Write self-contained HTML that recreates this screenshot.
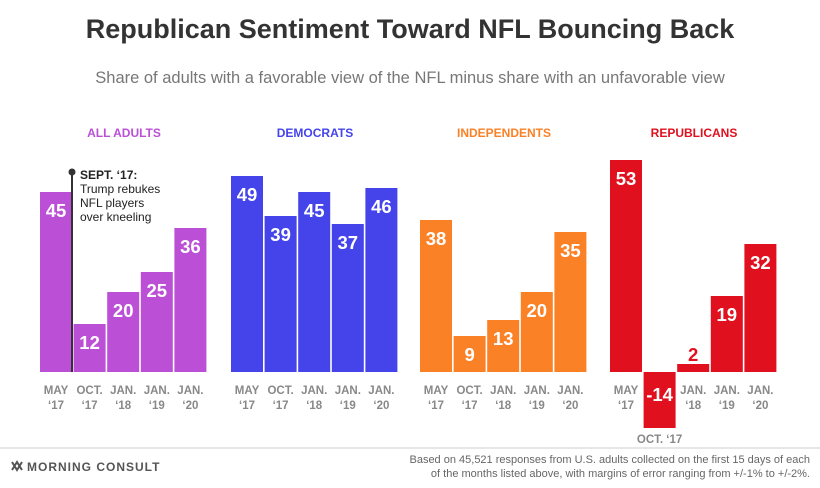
<!DOCTYPE html>
<html><head><meta charset="utf-8"><style>
body{margin:0;background:#fff;font-family:"Liberation Sans",sans-serif}
svg text{font-family:"Liberation Sans",sans-serif}
</style></head><body>
<svg width="820" height="483" viewBox="0 0 820 483">
<text x="410" y="38" text-anchor="middle" font-size="27" font-weight="bold" fill="#333">Republican Sentiment Toward NFL Bouncing Back</text>
<text x="410" y="83" text-anchor="middle" font-size="16.5" fill="#777">Share of adults with a favorable view of the NFL minus share with an unfavorable view</text>
<g id="bars"></g>
<line x1="72" y1="172" x2="72" y2="372" stroke="#333" stroke-width="2"/>
<circle cx="72" cy="172" r="3.5" fill="#333"/>
<text font-size="12" fill="#222"><tspan x="80" y="179" font-weight="bold">SEPT. ‘17:</tspan><tspan x="80" y="193">Trump rebukes</tspan><tspan x="80" y="207">NFL players</tspan><tspan x="80" y="221">over kneeling</tspan></text>
<line x1="0" y1="448" x2="820" y2="448" stroke="#ccc"/>
<g>
<path d="M12 462 l5 8 l5 -8 M12 470 l5 -8 l5 8" stroke="#555" stroke-width="2" fill="none"/>
<text x="27" y="471" font-size="12" font-weight="bold" fill="#555" letter-spacing="1">MORNING CONSULT</text>
</g>
<text font-size="11" fill="#666" text-anchor="end"><tspan x="810" y="463">Based on 45,521 responses from U.S. adults collected on the first 15 days of each</tspan><tspan x="810" y="477">of the months listed above, with margins of error ranging from +/-1% to +/-2%.</tspan></text>
</svg>
<script>
const groups=["ALL ADULTS","DEMOCRATS","INDEPENDENTS","REPUBLICANS"];
const colors=["#bb4fd6","#4444ea","#fb8127","#e0101e"];
const periods=[["MAY","‘17"],["OCT.","‘17"],["JAN.","‘18"],["JAN.","‘19"],["JAN.","‘20"]];
const allAdults=[45,12,20,25,36];
const democrats=[49,39,45,37,46];
const independents=[38,9,13,20,35];
const republicans=[53,-14,2,19,32];
const series=[allAdults,democrats,independents,republicans];
const groupX=[40,231,420,610];
const base=372, k=4, bw=32, pitch=33.6;
const y=v=>base-v*k;
const ns="http://www.w3.org/2000/svg";
const g=document.getElementById('bars');
function mk(t,a,txt){const e=document.createElementNS(ns,t);for(const n in a)e.setAttribute(n,a[n]);if(txt!==undefined)e.textContent=txt;g.appendChild(e);return e;}
series.forEach((s,gi)=>{
 const gx=groupX[gi];
 const title=mk('text',{x:gx+84,y:137,'text-anchor':'middle','font-size':12,'font-weight':'bold',fill:colors[gi]},groups[gi]);
 
 
 s.forEach((v,i)=>{
  const x=gx+i*pitch;
  const r=mk('rect',{x:x,y:Math.min(y(v),base),width:bw,height:Math.abs(v)*k,fill:colors[gi]});
  
  
  let ly,fill='#fff';
  if(v<0){ly=base+29;}else if(v*k<24){ly=y(v)-3;fill=colors[gi];}else{ly=y(v)+25;}
  const t=mk('text',{x:x+bw/2,y:ly,'text-anchor':'middle','font-size':18.5,'font-weight':'bold',fill:fill},String(v));
  
  
  if(v<0){
   const l=mk('text',{x:x+bw/2,y:base+k*Math.abs(v)+15,'text-anchor':'middle','font-size':11.5,'font-weight':'bold',fill:'#888'},periods[i][0]+' '+periods[i][1]);
   
   
  }else{
   const l=mk('text',{x:x+bw/2,'text-anchor':'middle','font-size':11.5,'font-weight':'bold',fill:'#888'});
   
   
   const a=document.createElementNS(ns,'tspan');a.setAttribute('x',x+bw/2);a.setAttribute('y',394);a.textContent=periods[i][0];l.appendChild(a);
   const b=document.createElementNS(ns,'tspan');b.setAttribute('x',x+bw/2);b.setAttribute('y',409);b.textContent=periods[i][1];l.appendChild(b);
  }
 });
});
</script>
</body></html>
